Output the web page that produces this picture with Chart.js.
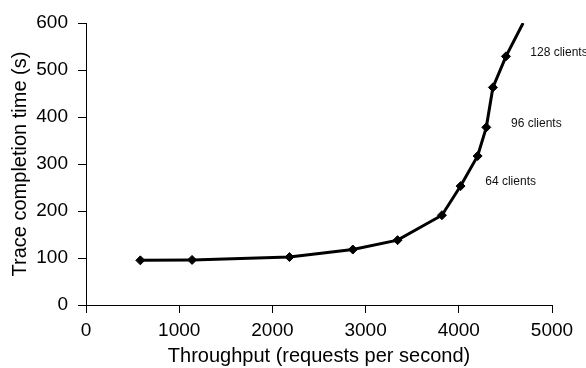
<!DOCTYPE html>
<html><head><meta charset="utf-8">
<script src="https://cdn.jsdelivr.net/npm/chart.js@4/dist/chart.umd.min.js"></script>
<style>html,body{margin:0;padding:0;background:#fff}#wrap{width:586px;height:368px;position:relative}</style>
</head><body><div id="wrap"><canvas id="c" width="586" height="368"></canvas></div>
<script>
const throughput = [583, 1138, 2183, 2863, 3343, 3819, 4019, 4202, 4295, 4366, 4506, 4690];
const completionTime = [95, 96, 102, 118, 138, 191, 253, 317, 378, 463, 529, 600];
const markerShown = [1, 1, 1, 1, 1, 1, 1, 1, 1, 1, 1, 0];
const xTicks = [0, 1000, 2000, 3000, 4000, 5000];
const yTicks = [0, 100, 200, 300, 400, 500, 600];
const noteLabels = ['64 clients', '96 clients', '128 clients'];
const noteX = [4284, 4560, 4767];
const noteY = [262, 386, 537];

const FONT = "'Liberation Sans', Arial, sans-serif";

const notesPlugin = {
  id: 'notes',
  afterDatasetsDraw(chart) {
    const ctx = chart.ctx;
    const xs = chart.scales.x, ys = chart.scales.y;
    ctx.save();
    ctx.font = '12px ' + FONT;
    ctx.fillStyle = '#111';
    ctx.textAlign = 'left';
    ctx.textBaseline = 'middle';
    noteLabels.forEach((t, i) => {
      ctx.fillText(t, xs.getPixelForValue(noteX[i]), ys.getPixelForValue(noteY[i]));
    });
    ctx.restore();
  }
};

new Chart(document.getElementById('c'), {
  type: 'line',
  data: {
    datasets: [{
      data: throughput.map((x, i) => ({x: x, y: completionTime[i]})),
      borderColor: '#000',
      backgroundColor: '#000',
      borderWidth: 3,
      tension: 0,
      pointStyle: 'rectRot',
      pointRadius: markerShown.map(m => m ? 4.5 : 0),
      pointBorderWidth: 1,
      pointBorderColor: '#000',
      pointBackgroundColor: '#000',
      fill: false
    }]
  },
  options: {
    responsive: false,
    animation: false,
    devicePixelRatio: 1,
    layout: {padding: {left: 0, right: 34, top: 23, bottom: 0}},
    plugins: {legend: {display: false}, tooltip: {enabled: false}},
    scales: {
      x: {
        type: 'linear', min: 0, max: 5000,
        afterBuildTicks: s => { s.ticks = xTicks.map(v => ({value: v})); },
        afterFit: s => { s.height = 63; },
        ticks: {font: {family: FONT, size: 19}, color: '#000', padding: 6,
                callback: v => String(v), maxRotation: 0},
        grid: {display: true, drawOnChartArea: false, tickLength: 8, color: '#000'},
        border: {display: true, color: '#000', width: 1},
        title: {display: true, text: 'Throughput (requests per second)',
                font: {family: FONT, size: 20}, color: '#000', padding: {top: 0, bottom: 0}}
      },
      y: {
        type: 'linear', min: 0, max: 600,
        afterBuildTicks: s => { s.ticks = yTicks.map(v => ({value: v})); },
        afterFit: s => { s.width = 86; },
        ticks: {font: {family: FONT, size: 19}, color: '#000', padding: 10,
                callback: v => String(v)},
        grid: {display: true, drawOnChartArea: false, tickLength: 8, color: '#000'},
        border: {display: true, color: '#000', width: 1},
        title: {display: true, text: 'Trace completion time (s)',
                font: {family: FONT, size: 20}, color: '#000', padding: {top: 8, bottom: 0}}
      }
    }
  },
  plugins: [notesPlugin]
});
</script></body></html>
